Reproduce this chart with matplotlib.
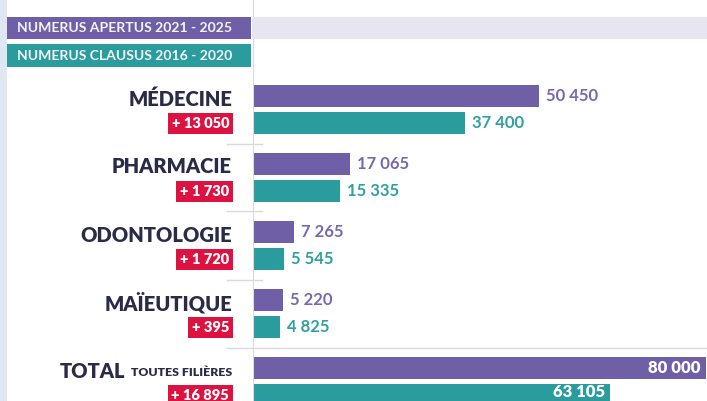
import matplotlib
matplotlib.use("Agg")
import matplotlib.pyplot as plt
from matplotlib.patches import Rectangle
from matplotlib.lines import Line2D

categories = ["MÉDECINE", "PHARMACIE", "ODONTOLOGIE", "MAÏEUTIQUE", "TOTAL"]
apertus = [50450, 17065, 7265, 5220, 80000]
clausus = [37400, 15335, 5545, 4825, 63105]
diff_labels = ["+ 13 050", "+ 1 730", "+ 1 720", "+ 395", "+ 16 895"]
legend_labels = ["NUMERUS APERTUS 2021 - 2025", "NUMERUS CLAUSUS 2016 - 2020"]

PURPLE = "#6e5fa7"
TEAL = "#2a9c9e"
PURPLE_TXT = "#7668b0"
TEAL_TXT = "#2f9fa1"
NAVY = "#2a2c47"
RED = "#de1240"
BAND = "#e7e5f2"
STRIP = "#dfe7f1"
GRID = "#d9d9de"

plt.rcParams["font.family"] = ["Lato", "DejaVu Sans"]

W, H = 707, 401
fig = plt.figure(figsize=(W / 100, H / 100), dpi=100)
fig.patch.set_facecolor("white")

def fx(px):
    return px / W

def fy(py):
    return 1 - py / H

# left strip
fig.patches.append(Rectangle((0, 0), fx(7), 1, transform=fig.transFigure, fc=STRIP, ec="none", zorder=0))

# bar axes
x0 = 253
ax = fig.add_axes([fx(x0), 0, 1 - fx(x0), 1])
ax.set_xlim(0, 80000 * (W - x0) / 453)
ax.set_ylim(H, 0)
ax.axis("off")
ax.patch.set_alpha(0)

# vertical axis line
fig.lines.append(Line2D([fx(x0), fx(x0)], [0, 1], transform=fig.transFigure, color=GRID, lw=0.8, zorder=0.5))

# legend band
fig.patches.append(Rectangle((fx(252), fy(39)), 1 - fx(252), fy(17) - fy(39), transform=fig.transFigure, fc=BAND, ec="none", zorder=1))
# legend boxes
for (top, bot), col, lab in zip([(17, 39), (44, 67)], [PURPLE, TEAL], legend_labels):
    fig.patches.append(Rectangle((fx(7), fy(bot)), fx(251) - fx(7), fy(top) - fy(bot), transform=fig.transFigure, fc=col, ec="none", zorder=2))
    fig.text(fx(232), fy((top + bot) / 2 + 0.5), lab, ha="right", va="center", color="#f4f4f8", fontsize=10.1, fontweight="bold", zorder=3)

step = 68
first = 96
gap = 27
bh = 22
pc = [first + step * i for i in range(len(categories))]
tc = [c + gap for c in pc]

ax.barh(pc, apertus, height=bh, color=PURPLE, zorder=2)
ax.barh(tc, clausus, height=bh, color=TEAL, zorder=2)

def fmt(v):
    return f"{v:,}".replace(",", " ")

for i, cat in enumerate(categories):
    if cat == "TOTAL":
        ax.annotate(fmt(apertus[i]), (apertus[i], pc[i]), xytext=(-4, 0), textcoords="offset points",
                    ha="right", va="center", color="white", fontsize=12, fontweight="heavy", zorder=3)
        ax.annotate(fmt(clausus[i]), (clausus[i], tc[i]), xytext=(-4, 2), textcoords="offset points",
                    ha="right", va="center", color="white", fontsize=12, fontweight="heavy", zorder=3)
        fig.text(fx(232), fy(pc[i] + 4), "TOUTES FILIÈRES", ha="right", va="center", color=NAVY, fontsize=8.8, fontweight="heavy")
        fig.text(fx(125), fy(pc[i] + 3), "TOTAL", ha="right", va="center", color=NAVY, fontsize=14.5, fontweight="heavy")
    else:
        ax.annotate(fmt(apertus[i]), (apertus[i], pc[i]), xytext=(5, 0), textcoords="offset points",
                    ha="left", va="center", color=PURPLE_TXT, fontsize=12, fontweight="bold", zorder=3)
        ax.annotate(fmt(clausus[i]), (clausus[i], tc[i]), xytext=(5, 0), textcoords="offset points",
                    ha="left", va="center", color=TEAL_TXT, fontsize=12, fontweight="bold", zorder=3)
        fig.text(fx(232), fy(pc[i] + 3), cat, ha="right", va="center", color=NAVY, fontsize=14.5, fontweight="heavy")
    fig.text(fx(229), fy(tc[i] + 0.5), diff_labels[i], ha="right", va="center", color="white", fontsize=10.5,
             fontweight="heavy", bbox=dict(boxstyle="square,pad=0.25", fc=RED, ec="none"))

# separators
for i in range(len(categories) - 1):
    y = (tc[i] + pc[i + 1]) / 2
    xend = 262 if i < len(categories) - 2 else W
    fig.lines.append(Line2D([fx(227), fx(xend)], [fy(y), fy(y)], transform=fig.transFigure, color=GRID, lw=1.0, zorder=1))

fig.savefig("out.png", dpi=100)
